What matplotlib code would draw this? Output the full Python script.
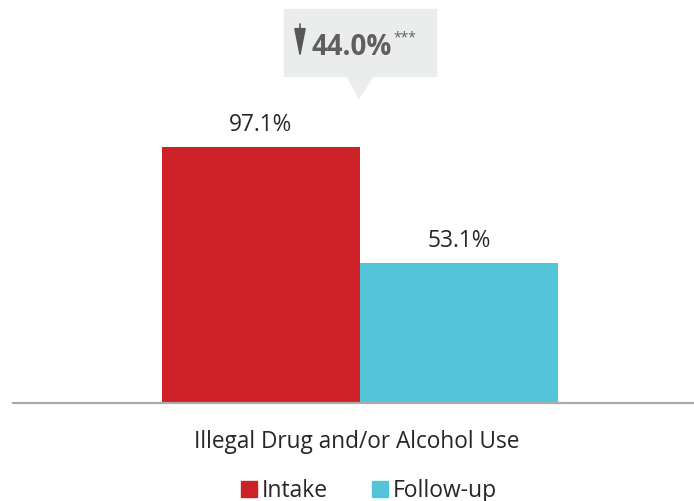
import matplotlib.pyplot as plt
from matplotlib.patches import Polygon, Rectangle, FancyArrowPatch

categories = ["Illegal Drug and/or Alcohol Use"]
series = ["Intake", "Follow-up"]
values = [97.1, 53.1]
colors = ["#cc2127", "#54c5d9"]
change_label = "44.0%"
significance = "***"

W, H = 694, 502
plt.rcParams['font.family'] = ['Open Sans', 'DejaVu Sans']

fig = plt.figure(figsize=(W / 100, H / 100), dpi=100)


def fx(px):
    return px / W


def fy(py):
    return 1 - py / H


# plot area: baseline at y=404 px, bars 198 px wide
ax = fig.add_axes([fx(13), fy(404), fx(694 - 13), 404 / H])
xs = [0, 1]
ax.bar(xs, values, width=1.0, color=colors, align='center')
ax.set_xlim(-0.5 - 149 / 198, 1.5 + 136 / 198)
ax.set_ylim(0, 404 / 2.636)
for s in ['top', 'right', 'left']:
    ax.spines[s].set_visible(False)
ax.spines['bottom'].set_color('#aaaaaa')
ax.spines['bottom'].set_linewidth(1.6)
ax.set_xticks([])
ax.set_yticks([])

for x, v in zip(xs, values):
    ax.annotate(f"{v:.1f}%", (x, v), xytext=(0, 12.5), textcoords='offset points',
                ha='center', va='baseline', fontsize=16.3, color='#262626')

fig.text(fx(357), fy(448), categories[0], ha='center', va='baseline',
         fontsize=16.3, color='#262626')

# callout box with pointer
fig.patches.append(Rectangle((fx(284), fy(77)), fx(436 - 284), (77 - 10) / H,
                             transform=fig.transFigure, color='#ebecec', zorder=1))
fig.patches.append(Polygon([(fx(347), fy(77)), (fx(373), fy(77)), (fx(359), fy(99))],
                           closed=True, transform=fig.transFigure, color='#ebecec', zorder=1))
fig.add_artist(FancyArrowPatch((fx(300), fy(25)), (fx(300), fy(59)),
                               transform=fig.transFigure,
                               arrowstyle='-|>,head_length=1.0,head_width=0.2',
                               mutation_scale=18, color='#555555', lw=1.2,
                               shrinkA=0, shrinkB=0, zorder=5))
fig.text(fx(312), fy(55), change_label, ha='left', va='baseline', fontsize=20,
         fontweight='bold', color='#5f5f5f', zorder=5)
fig.text(fx(393), fy(41), significance, ha='left', va='baseline', fontsize=10,
         color='#5f5f5f', zorder=5)

# legend
legend_x = [241, 372]
for lx, name, c in zip(legend_x, series, colors):
    fig.patches.append(Rectangle((fx(lx), fy(498)), fx(16), 16 / H,
                                 transform=fig.transFigure, color=c))
    fig.text(fx(lx + 21), fy(497), name, ha='left', va='baseline',
             fontsize=16.5, color='#262626')

fig.savefig("out.png", dpi=100)
